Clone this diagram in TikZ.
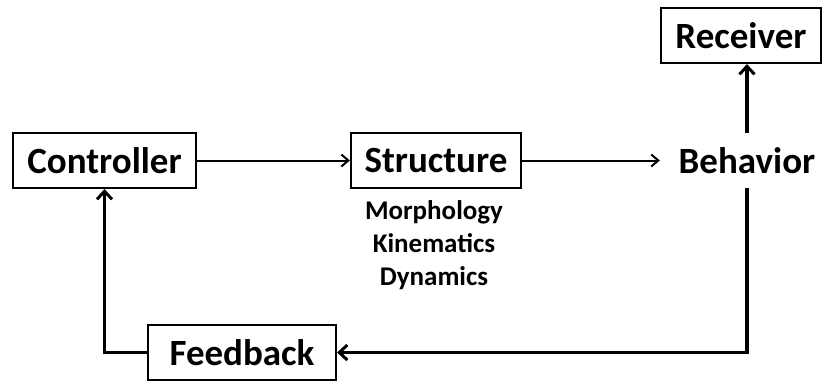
\documentclass[tikz,border=0pt]{standalone}
\usepackage{fontspec}
\setmainfont{Carlito}
\usetikzlibrary{arrows.meta}

\begin{document}
\begin{tikzpicture}[
  x=1pt,y=-1pt,
  font=\fontsize{37}{40}\selectfont\bfseries,
  block/.style={draw,line width=2.2pt,inner sep=0pt,minimum height=55pt},
  plain/.style={inner sep=0pt,minimum height=55pt},
  sub/.style={font=\fontsize{27}{33}\selectfont\bfseries,align=center,inner sep=0pt},
  fwd/.style={line width=2pt,-{Straight Barb[length=7pt,width=12pt,line width=2pt]}},
  loop/.style={line width=3.5pt,-{Straight Barb[length=8pt,width=15pt,line width=3pt]}},
]
\useasboundingbox (0,0) rectangle (825,381);

% ---- forward path ----
\node[block,minimum width=183pt] (ctrl) at (104.5,160.5) {Controller};
\node[block,minimum width=170pt] (struct) at (436,160.5) {Structure};
\node[plain,minimum width=174pt] (beh) at (747,160.5) {Behavior};
\node[block,minimum width=160pt] (rec) at (741,35.5) {Receiver};

\node[sub,anchor=north] (props) at (434,200)
  {Morphology\\Kinematics\\Dynamics};

\draw[fwd] (ctrl) -- (struct);
\draw[fwd] (struct) -- (beh);
\draw[loop] (beh.north) -- (beh.north |- rec.south);

% ---- feedback loop ----
\node[block,minimum width=188pt] (fb) at (242,352.5) {Feedback};
\draw[loop] (beh.south) |- (fb.east);
\draw[loop] (fb.west) -| (ctrl.south);

\end{tikzpicture}
\end{document}
